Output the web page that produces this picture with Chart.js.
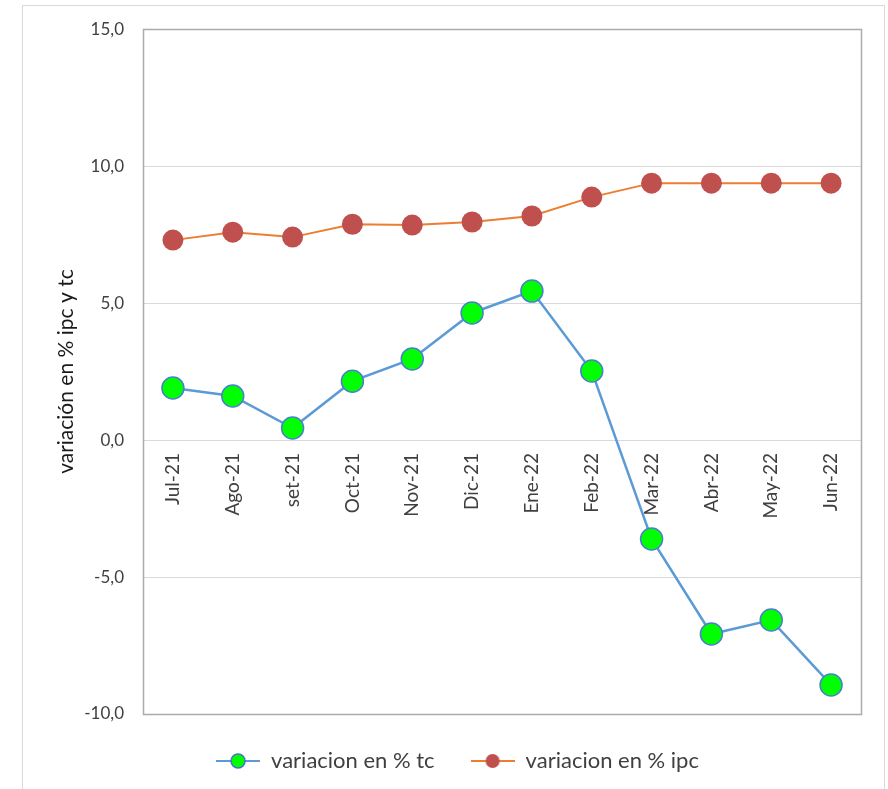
<!DOCTYPE html>
<html><head><meta charset="utf-8">
<script src="https://cdn.jsdelivr.net/npm/chart.js@4/dist/chart.umd.min.js"></script>
<style>html,body{margin:0;padding:0;background:#fff;} #wrap{width:888px;height:789px;position:relative;}</style>
</head><body><div id="wrap"><canvas id="c" width="888" height="789"></canvas></div>
<script>
const categories = ['Jul-21','Ago-21','set-21','Oct-21','Nov-21','Dic-21','Ene-22','Feb-22','Mar-22','Abr-22','May-22','Jun-22'];
const tcValues  = [1.90, 1.61, 0.44, 2.15, 2.96, 4.64, 5.44, 2.52, -3.61, -7.08, -6.57, -8.94];
const ipcValues = [7.30, 7.59, 7.41, 7.88, 7.85, 7.96, 8.18, 8.87, 9.38, 9.38, 9.38, 9.38];
const yMin = -10, yMax = 15, yStep = 5;
const seriesNames = ['variacion en % tc', 'variacion en % ipc'];
const yTitle = 'variación en % ipc y tc';

const FONT = 'Lato, "Liberation Sans", sans-serif';

function legendIcon(line, fill, border) {
  const c = document.createElement('canvas');
  c.width = 44; c.height = 20;
  const x = c.getContext('2d');
  x.strokeStyle = line; x.lineWidth = 2;
  x.beginPath(); x.moveTo(0, 10); x.lineTo(44, 10); x.stroke();
  x.beginPath(); x.arc(22, 10, 7, 0, Math.PI * 2);
  x.fillStyle = fill; x.fill();
  if (border) { x.strokeStyle = border; x.lineWidth = 1.5; x.stroke(); }
  return c;
}
const icons = [legendIcon('#5b9bd5', '#00ff00', '#4472c4'), legendIcon('#ed7d31', '#c0504d', null)];

const framePlugin = {
  id: 'frame',
  beforeDraw(chart) {
    const ctx = chart.ctx;
    ctx.save();
    ctx.strokeStyle = '#d9d9d9'; ctx.lineWidth = 1;
    ctx.strokeRect(22.5, 5.5, 862, 800);
    ctx.restore();
  },
  beforeDatasetsDraw(chart) {
    const a = chart.chartArea, ctx = chart.ctx;
    ctx.save();
    ctx.strokeStyle = '#ababab'; ctx.lineWidth = 1.5;
    ctx.strokeRect(Math.round(a.left) + 0.5, Math.round(a.top) + 0.5, Math.round(a.right - a.left), Math.round(a.bottom - a.top));
    ctx.restore();
  }
};

new Chart(document.getElementById('c'), {
  type: 'line',
  data: {
    labels: categories,
    datasets: [
      { label: seriesNames[0], data: tcValues, borderColor: '#5b9bd5', borderWidth: 2.5,
        pointBackgroundColor: '#00ff00', pointBorderColor: '#4a7fcf', pointBorderWidth: 1.5,
        pointRadius: 11, tension: 0, order: 1 },
      { label: seriesNames[1], data: ipcValues, borderColor: '#ed7d31', borderWidth: 2,
        pointBackgroundColor: '#c0504d', pointBorderColor: '#c0504d', pointBorderWidth: 0,
        pointRadius: 10.5, tension: 0, order: 2 }
    ]
  },
  options: {
    responsive: false,
    animation: false,
    layout: { padding: { left: 54, right: 27, top: 29, bottom: 7 } },
    plugins: {
      tooltip: { enabled: false },
      legend: {
        position: 'bottom',
        labels: {
          usePointStyle: true,
          pointStyleWidth: 44,
          boxHeight: 17,
          padding: 36,
          color: '#404040',
          font: { family: FONT, size: 22 },
          generateLabels(chart) {
            return chart.data.datasets.map((d, i) => ({
              text: d.label, pointStyle: icons[i], datasetIndex: i,
              fillStyle: 'transparent', strokeStyle: 'transparent', lineWidth: 0, hidden: false, fontColor: '#404040'
            }));
          }
        }
      }
    },
    scales: {
      x: {
        position: { y: 0 },
        offset: true,
        grid: { display: false, drawTicks: false },
        border: { display: false },
        ticks: { minRotation: 90, maxRotation: 90, padding: 13, color: '#404040', font: { family: FONT, size: 19 }, autoSkip: false }
      },
      y: {
        min: yMin, max: yMax,
        afterFit(s) { s.width = 89; },
        grid: { color: '#d9d9d9', lineWidth: 1, drawTicks: false },
        border: { display: false },
        ticks: { stepSize: yStep, padding: 19, color: '#404040', font: { family: FONT, size: 17 },
          callback: v => v.toFixed(1).replace('.', ',') },
        title: { display: true, text: yTitle, color: '#1a1a1a', font: { family: FONT, size: 21 }, padding: { top: 0, bottom: 0 } }
      }
    }
  },
  plugins: [framePlugin]
});
</script>
</body></html>
